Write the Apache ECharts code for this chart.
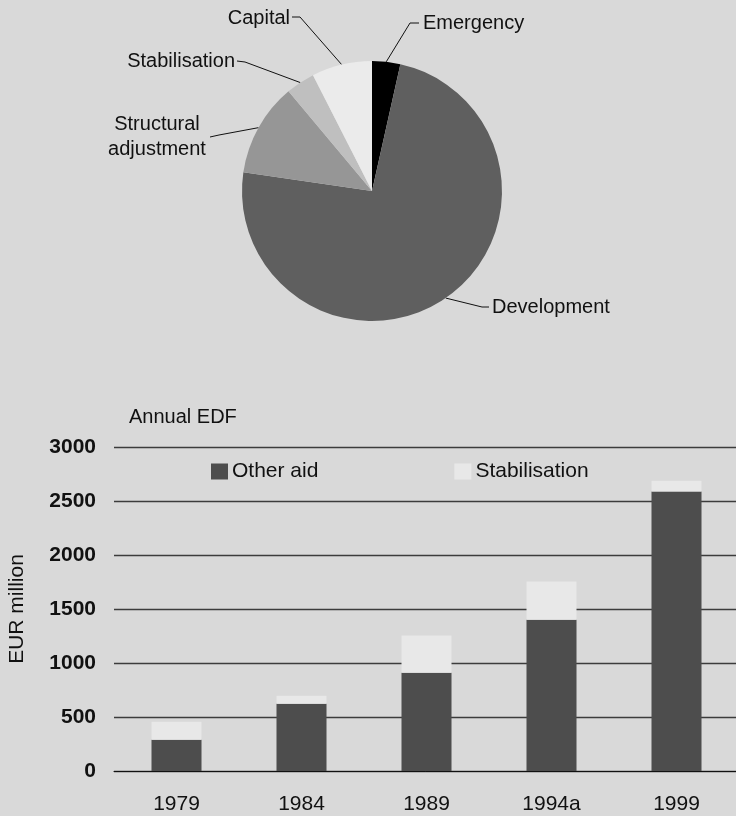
<!DOCTYPE html>
<html>
<head>
<meta charset="utf-8">
<script src="https://cdn.jsdelivr.net/npm/echarts@6/dist/echarts.min.js"></script>
<style>
  html, body { margin: 0; padding: 0; background: #d9d9d9; }
  #chart { width: 736px; height: 816px; }
</style>
</head>
<body>
<div id="chart"></div>
<script>
// EDF allocation by instrument (share, %)
const pieNames = ['Emergency', 'Development', 'Structural adjustment', 'Stabilisation', 'Capital'];
const pieShares = [3.5, 73.8, 11.6, 3.6, 7.5];
const pieColors = ['#000000', '#5f5f5f', '#969696', '#bfbfbf', '#ebebeb'];

// Annual EDF, EUR million
const years = ['1979', '1984', '1989', '1994a', '1999'];
const otherAid = [290, 622, 910, 1400, 2588];
const stabilisation = [165, 75, 345, 355, 100];
const yTicks = { min: 0, max: 3000, step: 500 };

const FONT = '"Liberation Sans", Arial, sans-serif';

// where each pie label sits and how its leader line bends
const labelSpots = [
  { x: 423, y: 23,  align: 'left',   elbow: [410, 23],  end: [419, 23] },
  { x: 492, y: 307, align: 'left',   elbow: [482, 307], end: [489, 307] },
  { x: 157, y: 137, align: 'center', elbow: [219, 135], end: [210, 137] },
  { x: 235, y: 61,  align: 'right',  elbow: [245, 62],  end: [237, 61] },
  { x: 290, y: 18,  align: 'right',  elbow: [300, 17],  end: [292, 17] }
];
const pieCenter = [372, 191];
const pieRadius = 130;

const chart = echarts.init(document.getElementById('chart'), null, { renderer: 'canvas' });

chart.setOption({
  backgroundColor: '#d9d9d9',
  animation: false,
  textStyle: { fontFamily: FONT },
  graphic: [{
    type: 'text',
    left: 129,
    top: 407,
    style: { text: 'Annual EDF', font: '20px ' + FONT, fill: '#111' }
  }],
  legend: {
    data: ['Other aid', 'Stabilisation'],
    left: 211,
    top: 461,
    padding: 0,
    itemGap: 136,
    itemWidth: 17,
    itemHeight: 16,
    icon: 'rect',
    textStyle: { fontSize: 21, color: '#111', fontFamily: FONT, padding: [0, 0, 0, -1] }
  },
  grid: { left: 114, right: -3, top: 447, bottom: 45, containLabel: false, outerBoundsMode: 'none' },
  xAxis: {
    type: 'category',
    data: years,
    axisTick: { show: false },
    axisLine: { lineStyle: { color: '#111', width: 1 } },
    axisLabel: { fontSize: 21, color: '#111', margin: 23, fontFamily: FONT }
  },
  yAxis: {
    type: 'value',
    min: yTicks.min,
    max: yTicks.max,
    interval: yTicks.step,
    name: 'EUR million',
    nameLocation: 'middle',
    nameRotate: 90,
    nameGap: 86,
    nameTextStyle: { fontSize: 21, color: '#111', fontFamily: FONT },
    axisLine: { show: false },
    axisTick: { show: false },
    axisLabel: {
      fontSize: 21, fontWeight: 'bold', color: '#111', margin: 18, fontFamily: FONT,
      formatter: v => String(v)
    },
    splitLine: { lineStyle: { color: '#3c3c3c', width: 1.3 } }
  },
  series: [
    {
      type: 'pie',
      center: pieCenter,
      radius: pieRadius,
      startAngle: 90,
      clockwise: true,
      avoidLabelOverlap: false,
      itemStyle: { borderWidth: 0 },
      data: pieNames.map((n, i) => ({ name: n, value: pieShares[i], itemStyle: { color: pieColors[i] } })),
      label: {
        show: true,
        position: 'outside',
        fontSize: 20,
        lineHeight: 25,
        color: '#111',
        fontFamily: FONT,
        formatter: p => p.name === 'Structural adjustment' ? 'Structural\nadjustment' : p.name
      },
      labelLine: { show: true, lineStyle: { color: '#111', width: 1 } },
      emphasis: { disabled: true },
      labelLayout: function (params) {
        const s = labelSpots[params.dataIndex];
        let start = params.labelLinePoints && params.labelLinePoints[0];
        if (!start) {
          // fall back to the slice's mid-angle on the rim
          const total = pieShares.reduce((a, b) => a + b, 0);
          let acc = 0;
          for (let k = 0; k < params.dataIndex; k++) acc += pieShares[k];
          const mid = (acc + pieShares[params.dataIndex] / 2) / total * Math.PI * 2;
          start = [pieCenter[0] + pieRadius * Math.sin(mid), pieCenter[1] - pieRadius * Math.cos(mid)];
        }
        return {
          x: s.x,
          y: s.y,
          align: s.align,
          verticalAlign: 'middle',
          labelLinePoints: [start, s.elbow, s.end]
        };
      }
    },
    {
      name: 'Other aid',
      type: 'bar',
      stack: 'edf',
      barWidth: 50,
      itemStyle: { color: '#4d4d4d' },
      data: otherAid
    },
    {
      name: 'Stabilisation',
      type: 'bar',
      stack: 'edf',
      barWidth: 50,
      itemStyle: { color: '#e8e8e8' },
      data: stabilisation
    }
  ]
});
</script>
</body>
</html>
